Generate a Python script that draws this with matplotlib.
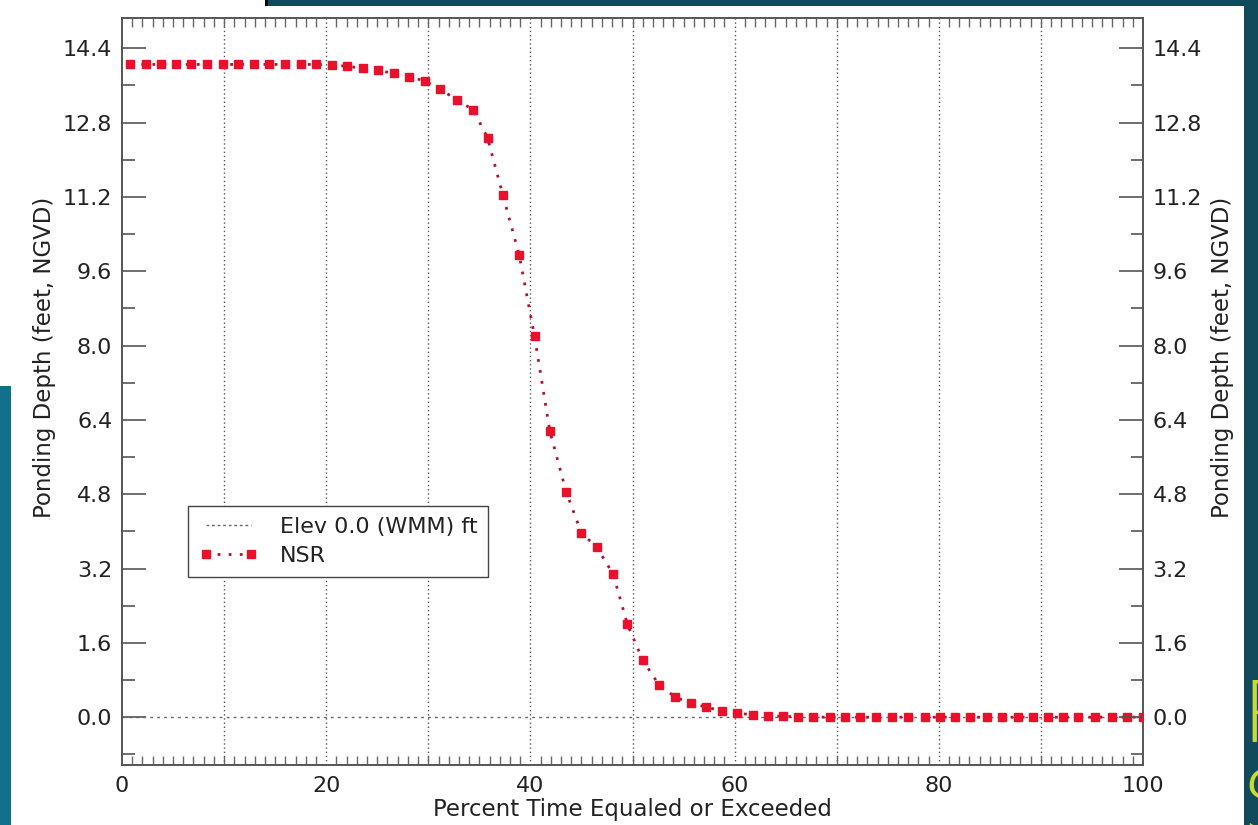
import matplotlib
matplotlib.use("Agg")
import matplotlib.pyplot as plt
from matplotlib.lines import Line2D
from matplotlib.patches import Rectangle
from matplotlib.ticker import MultipleLocator, FixedLocator, FormatStrFormatter

# NSR ponding depth duration curve
nsr_pct = [
    0.8, 2.3, 3.8, 5.3, 6.8, 8.3, 9.9, 11.4, 12.9, 14.4, 16.0, 17.5, 19.0, 20.6,
    22.0, 23.6, 25.1, 26.6, 28.1, 29.7, 31.1, 32.8, 34.4, 35.8, 37.3, 38.9, 40.4,
    41.9, 43.5, 45.0, 46.5, 48.1, 49.5, 51.0, 52.6, 54.2, 55.7, 57.2, 58.8, 60.2,
    61.8, 63.3, 64.7, 66.2, 67.7, 69.3, 70.8, 72.3, 73.8, 75.4, 77.0, 78.6, 80.1,
    81.6, 83.1, 84.7, 86.2, 87.8, 89.2, 90.7, 92.2, 93.6, 95.3, 97.0, 98.4, 100.0,
]
nsr_depth = [
    14.05, 14.05, 14.05, 14.05, 14.05, 14.05, 14.05, 14.05, 14.05, 14.05, 14.05, 14.05, 14.05, 14.04,
    14.01, 13.97, 13.92, 13.86, 13.79, 13.69, 13.52, 13.29, 13.07, 12.47, 11.24, 9.95, 8.20,
    6.16, 4.85, 3.96, 3.66, 3.08, 2.00, 1.23, 0.69, 0.43, 0.30, 0.22, 0.13, 0.09,
    0.05, 0.03, 0.02, 0.01, 0.0, 0.0, 0.0, 0.0, 0.0, 0.0, 0.0, 0.0, 0.0,
    0.0, 0.0, 0.0, 0.0, 0.0, 0.0, 0.0, 0.0, 0.0, 0.0, 0.0, 0.0, 0.0,
]
elev_level = 0.0
x_labelled = [0, 20, 40, 60, 80, 100]
x_grid = [10, 20, 30, 40, 50, 60, 70, 80, 90]

plt.rcParams["font.family"] = ["DejaVu Sans"]
TXT = "#222222"
AX = "#555555"
FS_TICK = 16
FS_LAB = 16.5

fig = plt.figure(figsize=(12.58, 8.25), dpi=100)
fig.patch.set_facecolor("white")

# slide background bits around the screenshot
fig.patches.append(Rectangle((0.213, 0.9927), 0.787, 0.0073, transform=fig.transFigure,
                             facecolor="#0e4a5b", edgecolor="none"))
fig.patches.append(Rectangle((0.2105, 0.9927), 0.0025, 0.0073, transform=fig.transFigure,
                             facecolor="black", edgecolor="none"))
fig.patches.append(Rectangle((0.9889, 0.0), 0.0111, 1.0, transform=fig.transFigure,
                             facecolor="#0f4b5b", edgecolor="none"))
fig.patches.append(Rectangle((0.0, 0.0), 0.0087, 0.532, transform=fig.transFigure,
                             facecolor="#13708a", edgecolor="none"))
fig.text(0.9865, 0.13, "R", color="#c9dc2b", fontsize=62, ha="left", va="center",
         fontweight="light")
fig.text(0.9865, 0.02, "S", color="#c9dc2b", fontsize=62, ha="left", va="center",
         fontweight="light")

ax = fig.add_axes([0.0970, 0.0727, 0.8116, 0.9055])
ax.set_xlim(0, 100)
ax.set_ylim(-1.03, 15.05)

for xv in x_grid:
    ax.axvline(xv, color=AX, lw=1.0, ls=(0, (1, 2)), zorder=1)

ax.axhline(elev_level, color="#666666", lw=1.0, ls=(0, (2, 3)), zorder=2)
ax.plot(nsr_pct, nsr_depth, color="#b8102c", lw=2.0, ls=(0, (1, 3)),
        marker="s", markersize=6.3, markerfacecolor="#e8102a", markeredgecolor="#e8102a",
        zorder=3)

# x axis: labels every 20, minor ticks every 1 (top and bottom)
ax.xaxis.set_major_locator(FixedLocator(x_labelled))
ax.xaxis.set_minor_locator(MultipleLocator(1))
ax.tick_params(axis="x", which="major", length=0, labelsize=FS_TICK, pad=8, colors=TXT)
ax.tick_params(axis="x", which="minor", direction="in", length=6.5, width=1.0,
               top=True, bottom=True, color="#666666")

# y axis both sides
ax.yaxis.set_major_locator(MultipleLocator(1.6))
ax.yaxis.set_minor_locator(MultipleLocator(0.8))
ax.yaxis.set_major_formatter(FormatStrFormatter("%.1f"))
ax.tick_params(axis="y", which="major", direction="in", length=17, width=1.2,
               labelsize=FS_TICK, pad=7, left=True, right=True, color=AX, labelcolor=TXT)
ax.tick_params(axis="y", which="minor", direction="in", length=9, width=1.2,
               left=True, right=True, color=AX)

for s in ax.spines.values():
    s.set_color(AX)
    s.set_linewidth(1.4)

ax.set_xlabel("Percent Time Equaled or Exceeded", fontsize=FS_LAB, color=TXT, labelpad=1)
ax.set_ylabel("Ponding Depth (feet, NGVD)", fontsize=FS_LAB, color=TXT)
ax.yaxis.set_label_coords(-0.065, 0.546)

ax2 = ax.twinx()
ax2.set_ylim(ax.get_ylim())
ax2.yaxis.set_major_locator(MultipleLocator(1.6))
ax2.yaxis.set_minor_locator(MultipleLocator(0.8))
ax2.yaxis.set_major_formatter(FormatStrFormatter("%.1f"))
ax2.tick_params(axis="y", which="major", direction="in", length=17, width=1.2,
                labelsize=FS_TICK, pad=7, color=AX, labelcolor=TXT)
ax2.tick_params(axis="y", which="minor", direction="in", length=9, width=1.2, color=AX)
for s in ax2.spines.values():
    s.set_visible(False)
ax2.set_ylabel("Ponding Depth (feet, NGVD)", fontsize=FS_LAB, color=TXT, rotation=90)
ax2.yaxis.set_label_coords(1.067, 0.546)

handles = [
    Line2D([], [], color="#666666", lw=1.0, ls=(0, (2, 2))),
    Line2D([], [], color="#b8102c", lw=2.0, ls=(0, (1, 3)), marker="s", markersize=6.3,
           markerfacecolor="#e8102a", markeredgecolor="#e8102a"),
]
leg = ax2.legend(handles, ["Elev 0.0 (WMM) ft", "NSR"], loc="lower left",
                 bbox_to_anchor=(0.065, 0.252), borderaxespad=0, fontsize=16,
                 frameon=True, fancybox=False, framealpha=1, edgecolor="#444444",
                 numpoints=2, handlelength=2.6, handletextpad=1.0, labelspacing=0.4,
                 borderpad=0.5)
leg.get_frame().set_linewidth(1.0)
for t in leg.get_texts():
    t.set_color(TXT)

fig.savefig("out.png", dpi=100)
